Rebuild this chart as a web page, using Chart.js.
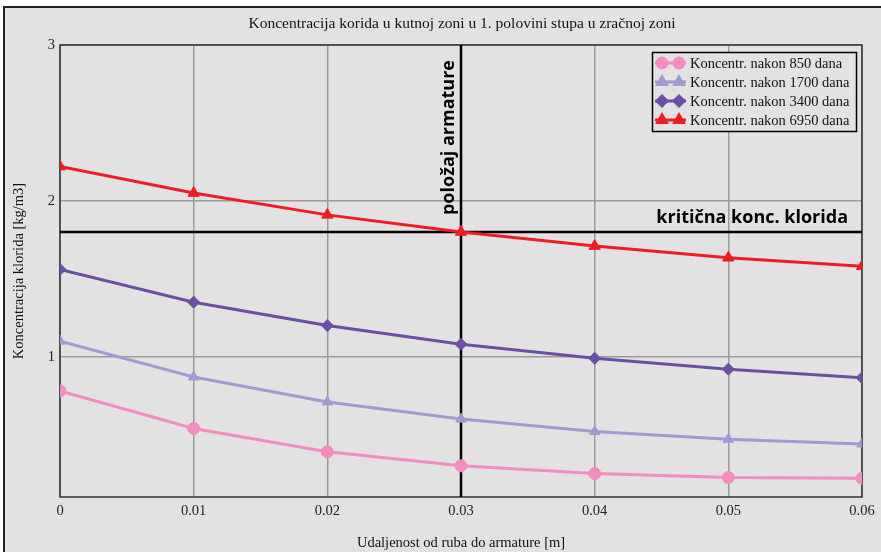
<!DOCTYPE html>
<html lang="hr">
<head>
    <meta charset="UTF-8">
    <title>Koncentracija klorida</title>
    <script src="https://cdn.jsdelivr.net/npm/chart.js"></script>
    <style>
        body {
            margin: 0;
            background: #fff;
        }
        #wrap {
            width: 881px;
            height: 552px;
        }
    </style>
</head>
<body>
    <div id="wrap"><canvas id="chart" width="881" height="552"></canvas></div>

    <script>
        // udaljenost od ruba [m]
        const distances = [0, 0.01, 0.02, 0.03, 0.04, 0.05, 0.06];
        const xTickValues = [0, 0.01, 0.02, 0.03, 0.04, 0.05, 0.06];
        const yTickValues = [1, 2, 3];

        // koncentracije [kg/m3]
        const conc850 = [0.78, 0.54, 0.39, 0.30, 0.25, 0.225, 0.22];
        const conc1700 = [1.10, 0.87, 0.71, 0.60, 0.52, 0.47, 0.44];
        const conc3400 = [1.56, 1.35, 1.20, 1.08, 0.99, 0.92, 0.865];
        const conc6950 = [2.22, 2.05, 1.91, 1.80, 1.71, 1.635, 1.58];

        const seriesLabels = ['Koncentr. nakon 850 dana', 'Koncentr. nakon 1700 dana', 'Koncentr. nakon 3400 dana', 'Koncentr. nakon 6950 dana'];
        const criticalConc = 1.8;     // kritična konc. klorida
        const rebarPosition = 0.03;   // položaj armature

        const serif = '"Liberation Serif", "Times New Roman", serif';
        const bg = '#e2e2e2';

        const styles = [
            { color: '#f48dbf', point: 'circle', radius: 6 },
            { color: '#9d9bd2', point: 'triangle', radius: 6 },
            { color: '#6b4fa3', point: 'rectRot', radius: 6 },
            { color: '#ef1c25', point: 'triangle', radius: 6.5 }
        ];

        function toPoints(values) {
            return values.map((v, i) => ({ x: distances[i], y: v }));
        }

        const allSeries = [conc850, conc1700, conc3400, conc6950];

        // pozadina, naslov, referentne linije i legenda
        const decor = {
            id: 'decor',
            beforeDraw(chart) {
                const ctx = chart.ctx;
                ctx.save();
                ctx.fillStyle = '#fff';
                ctx.fillRect(0, 0, chart.width, chart.height);
                ctx.fillStyle = bg;
                ctx.fillRect(4, 7, chart.width - 4, chart.height - 7);
                ctx.strokeStyle = '#222';
                ctx.lineWidth = 2;
                ctx.beginPath();
                ctx.moveTo(4, chart.height);
                ctx.lineTo(4, 7);
                ctx.lineTo(chart.width, 7);
                ctx.stroke();

                ctx.fillStyle = '#111';
                ctx.font = '15.5px ' + serif;
                ctx.textAlign = 'center';
                ctx.textBaseline = 'middle';
                ctx.fillText('Koncentracija korida u kutnoj zoni u 1. polovini stupa u zračnoj zoni', 462, 24);
                ctx.restore();
            },
            beforeDatasetsDraw(chart) {
                const { ctx, chartArea: a, scales: { x, y } } = chart;
                ctx.save();
                // okvir
                ctx.strokeStyle = '#333';
                ctx.lineWidth = 1.5;
                ctx.strokeRect(a.left, a.top, a.right - a.left, a.bottom - a.top);

                ctx.strokeStyle = '#000';
                ctx.lineWidth = 2.5;
                const px = x.getPixelForValue(rebarPosition);
                ctx.beginPath();
                ctx.moveTo(px, a.top);
                ctx.lineTo(px, a.bottom);
                ctx.stroke();
                const py = y.getPixelForValue(criticalConc);
                ctx.beginPath();
                ctx.moveTo(a.left, py);
                ctx.lineTo(a.right, py);
                ctx.stroke();

                ctx.fillStyle = '#000';
                ctx.font = 'bold 18px "Open Sans", sans-serif';
                ctx.textBaseline = 'alphabetic';
                ctx.textAlign = 'right';
                ctx.fillText('kritična konc. klorida', a.right - 14, py - 9);

                ctx.translate(px - 7, py - 17);
                ctx.rotate(-Math.PI / 2);
                ctx.textAlign = 'left';
                ctx.fillText('položaj armature', 0, 0);
                ctx.restore();
            },
            afterDraw(chart) {
                const ctx = chart.ctx;
                ctx.save();
                ctx.fillStyle = bg;
                ctx.fillRect(652, 52, 204, 79);
                ctx.strokeStyle = '#000';
                ctx.lineWidth = 1.5;
                ctx.strokeRect(652.5, 52.5, 204, 79);
                ctx.font = '14.5px ' + serif;
                ctx.textAlign = 'left';
                ctx.textBaseline = 'middle';
                seriesLabels.forEach((label, i) => {
                    const yy = 63 + 19 * i;
                    const s = styles[i];
                    ctx.strokeStyle = s.color;
                    ctx.lineWidth = 3;
                    ctx.beginPath();
                    ctx.moveTo(655, yy);
                    ctx.lineTo(686, yy);
                    ctx.stroke();
                    ctx.fillStyle = s.color;
                    [662, 679].forEach(mx => {
                        Chart.helpers.drawPoint(ctx, { pointStyle: s.point, radius: 5, rotation: 0, borderWidth: 1 }, mx, yy);
                    });
                    ctx.fillStyle = '#111';
                    ctx.fillText(label, 690, yy + 1);
                });
                ctx.restore();
            }
        };

        new Chart(document.getElementById('chart'), {
            type: 'line',
            data: {
                datasets: allSeries.map((values, i) => ({
                    label: seriesLabels[i],
                    data: toPoints(values),
                    borderColor: styles[i].color,
                    backgroundColor: styles[i].color,
                    borderWidth: 3,
                    pointStyle: styles[i].point,
                    pointRadius: styles[i].radius,
                    pointBorderWidth: 1,
                    tension: 0,
                    clip: 0
                }))
            },
            options: {
                responsive: false,
                animation: false,
                layout: { padding: { top: 45, right: 19, left: 0, bottom: 0 } },
                plugins: {
                    legend: { display: false },
                    title: { display: false },
                    tooltip: { enabled: false }
                },
                scales: {
                    x: {
                        type: 'linear',
                        min: 0,
                        max: 0.06,
                        afterBuildTicks: s => { s.ticks = xTickValues.map(v => ({ value: v })); },
                        afterFit: s => { s.height = 55; },
                        border: { display: false },
                        grid: { color: '#9a9a9a', lineWidth: 1.5, drawTicks: false },
                        ticks: {
                            padding: 5,
                            color: '#222',
                            font: { family: serif, size: 14.5 },
                            maxRotation: 0,
                            callback: v => v === 0 ? '0' : v.toFixed(2)
                        },
                        title: {
                            display: true,
                            text: 'Udaljenost od ruba do armature [m]',
                            color: '#111',
                            font: { family: serif, size: 14.5 },
                            padding: { top: 0, bottom: 0 }
                        }
                    },
                    y: {
                        min: 0.1,
                        max: 3,
                        afterBuildTicks: s => { s.ticks = yTickValues.map(v => ({ value: v })); },
                        afterFit: s => { s.width = 60; },
                        border: { display: false },
                        grid: { color: '#9a9a9a', lineWidth: 1.5, drawTicks: false },
                        ticks: {
                            padding: 5,
                            color: '#222',
                            font: { family: serif, size: 14.5 }
                        },
                        title: {
                            display: true,
                            text: 'Koncentracija klorida [kg/m3]',
                            color: '#111',
                            font: { family: serif, size: 14.5 },
                            padding: { top: 10, bottom: 0 }
                        }
                    }
                }
            },
            plugins: [decor]
        });
    </script>
</body>
</html>
